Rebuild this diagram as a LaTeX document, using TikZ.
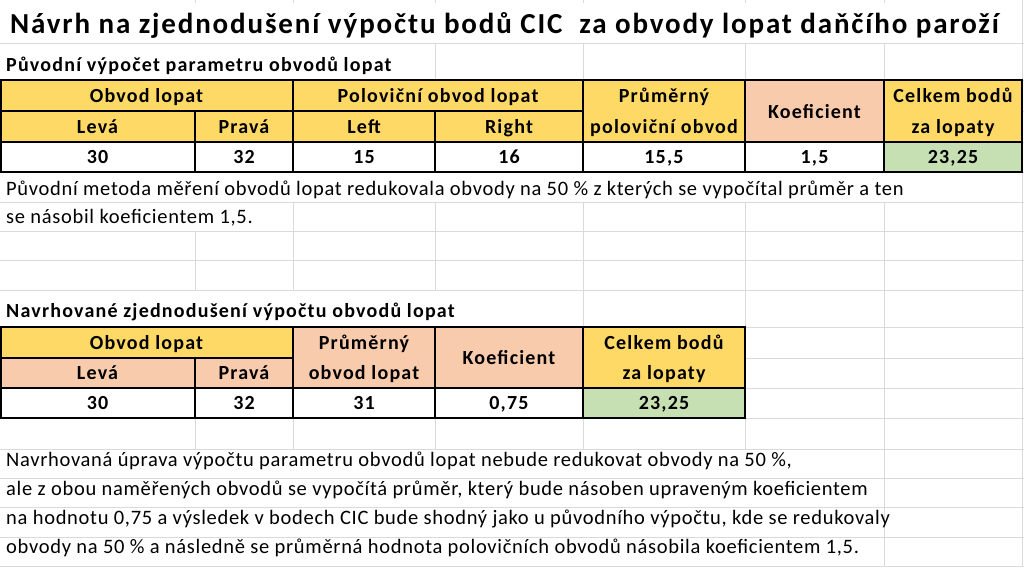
\documentclass[tikz,border=0pt]{standalone}
\usepackage{fontspec}
\setmainfont{Carlito}
\newfontfamily\bodyfont[LetterSpace=3.4]{Carlito}
\newfontfamily\boldfont[LetterSpace=6]{Carlito Bold}
\newfontfamily\titlefont[LetterSpace=6.4]{Carlito Bold}
\definecolor{hdrY}{HTML}{FFD966}
\definecolor{hdrS}{HTML}{F8CBAD}
\definecolor{resG}{HTML}{C6E0B4}
\definecolor{gridG}{HTML}{DADADA}
\tikzset{
  gridline/.style={draw=gridG, line width=1pt},
  thickb/.style={draw=black, line width=2pt},
  thinb/.style={draw=black, line width=1.1pt},
  ptxt/.style={anchor=base west, inner sep=0pt, font=\bodyfont\fontsize{20.5}{24}\selectfont},
  htxt/.style={anchor=base west, inner sep=0pt, font=\boldfont\fontsize{20}{24}\selectfont},
  ttxt/.style={anchor=base west, inner sep=0pt, font=\titlefont\fontsize{29}{33}\selectfont},
  ctxt/.style={anchor=base, inner sep=0pt, font=\boldfont\fontsize{20}{24}\selectfont},
}
\begin{document}
\begin{tikzpicture}[x=1pt,y=-1pt]
\useasboundingbox (0,0) rectangle (1024,568);
\fill[white] (0,0) rectangle (1024,568);
% horizontal gridlines
\foreach \yy in {43,80,111,142,172,202,231,260,290,327,358,388,418,449,478,507,537,566}
  \draw[gridline] (0,\yy) -- (1024,\yy);
% vertical gridline segments
\foreach \xx in {195,293,435,583,745,884}
  \draw[gridline] (\xx,0) -- (\xx,3);
\foreach \xx in {195,293,435,583,745}
  \draw[gridline] (\xx,418) -- (\xx,449);
\draw[gridline] (195,231) -- (195,290);
\draw[gridline] (293,202) -- (293,290);
\draw[gridline] (435,43) -- (435,80) (435,202) -- (435,290);
\draw[gridline] (583,43) -- (583,80) (583,202) -- (583,327);
\draw[gridline] (745,43) -- (745,80) (745,202) -- (745,327);
\draw[gridline] (884,43) -- (884,80) (884,202) -- (884,566);
\draw[gridline] (1022,0) -- (1022,80) (1022,172) -- (1022,566);

% ---------- table 1 fills ----------
\fill[hdrY] (0,80) rectangle (745,142);
\fill[hdrS] (745,80) rectangle (884,142);
\fill[hdrY] (884,80) rectangle (1022,142);
\fill[white] (0,142) rectangle (884,172);
\fill[resG] (884,142) rectangle (1022,172);
% table 1 borders
\draw[thinb] (195,111) -- (195,172) (435,111) -- (435,172);
\draw[thickb] (0,111) -- (583,111);
\draw[thickb] (0,142) -- (1022,142);
\draw[thickb] (293,80) -- (293,172) (583,80) -- (583,172) (745,80) -- (745,172) (884,80) -- (884,172);
\draw[thickb] (1,80) rectangle (1022,172);

% ---------- table 2 fills ----------
\fill[hdrY] (0,327) rectangle (293,358);
\fill[hdrS] (0,358) rectangle (293,388);
\fill[hdrS] (293,327) rectangle (583,388);
\fill[hdrY] (583,327) rectangle (745,388);
\fill[white] (0,388) rectangle (583,418);
\fill[resG] (583,388) rectangle (745,418);
% table 2 borders
\draw[thinb] (195,358) -- (195,418);
\draw[thickb] (0,358) -- (293,358);
\draw[thickb] (0,388) -- (745,388);
\draw[thickb] (293,327) -- (293,418) (435,327) -- (435,418) (583,327) -- (583,418);
\draw[thickb] (1,327) rectangle (745,418);

% ---------- texts ----------
\node[ttxt] (title) at (10,33) {Návrh na zjednodušení výpočtu bodů CIC\ \ za obvody lopat daňčího paroží};
\node[htxt] (head1) at (6,71) {Původní výpočet parametru obvodů lopat};

\node[ctxt] (a1) at (146.5,102) {Obvod lopat};
\node[ctxt] (a2) at (438,102) {Poloviční obvod lopat};
\node[ctxt] (a3) at (664,102) {Průměrný};
\node[ctxt] (a4) at (664,133) {poloviční obvod};
\node[ctxt] (a5) at (814.5,118) {Koeficient};
\node[ctxt] (a6) at (953,102) {Celkem bodů};
\node[ctxt] (a7) at (953,133) {za lopaty};
\node[ctxt] (b1) at (97.5,133) {Levá};
\node[ctxt] (b2) at (244,133) {Pravá};
\node[ctxt] (b3) at (364,133) {Left};
\node[ctxt] (b4) at (509,133) {Right};
\node[ctxt] (d1) at (97.5,163) {30};
\node[ctxt] (d2) at (244,163) {32};
\node[ctxt] (d3) at (364,163) {15};
\node[ctxt] (d4) at (509,163) {16};
\node[ctxt] (d5) at (664,163) {15,5};
\node[ctxt] (d6) at (814.5,163) {1,5};
\node[ctxt] (d7) at (953,163) {23,25};

\node[ptxt] (p1) at (6,195) {Původní metoda měření obvodů lopat redukovala obvody na 50 \% z kterých se vypočítal průměr a ten};
\node[ptxt] (p2) at (6,223) {se násobil koeficientem 1,5.};

\node[htxt] (head2) at (6,317) {Navrhované zjednodušení výpočtu obvodů lopat};

\node[ctxt] (e1) at (146.5,349) {Obvod lopat};
\node[ctxt] (e2) at (97.5,379) {Levá};
\node[ctxt] (e3) at (244,379) {Pravá};
\node[ctxt] (e4) at (364,349) {Průměrný};
\node[ctxt] (e5) at (364,379) {obvod lopat};
\node[ctxt] (e6) at (509,364) {Koeficient};
\node[ctxt] (e7) at (664,349) {Celkem bodů};
\node[ctxt] (e8) at (664,379) {za lopaty};
\node[ctxt] (f1) at (97.5,409) {30};
\node[ctxt] (f2) at (244,409) {32};
\node[ctxt] (f3) at (364,409) {31};
\node[ctxt] (f4) at (509,409) {0,75};
\node[ctxt] (f5) at (664,409) {23,25};

\node[ptxt] (q1) at (6,466) {Navrhovaná úprava výpočtu parametru obvodů lopat nebude redukovat obvody na 50 \%,};
\node[ptxt] (q2) at (6,495) {ale z obou naměřených obvodů se vypočítá průměr, který bude násoben upraveným koeficientem};
\node[ptxt] (q3) at (6,524) {na hodnotu 0,75 a výsledek v bodech CIC bude shodný jako u původního výpočtu, kde se redukovaly};
\node[ptxt] (q4) at (6,553) {obvody na 50 \% a následně se průměrná hodnota polovičních obvodů násobila koeficientem 1,5.};
\end{tikzpicture}
\end{document}
